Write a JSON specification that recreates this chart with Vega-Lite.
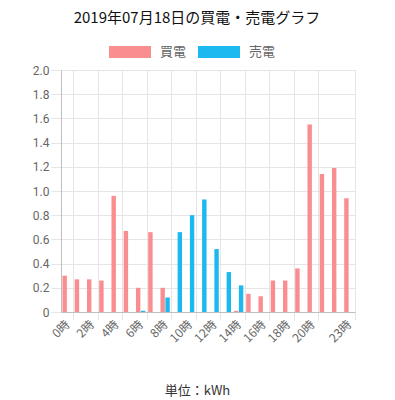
{
  "$schema": "https://vega.github.io/schema/vega-lite/v6.json",
  "autosize": {"type": "none"},
  "width": 294,
  "height": 242,
  "padding": {"left": 61, "top": 70, "right": 40, "bottom": 88},
  "background": "white",
  "title": {
    "text": "2019年07月18日の買電・売電グラフ",
    "anchor": "middle",
    "frame": "group",
    "dx": -11,
    "offset": 16,
    "fontSize": 15,
    "fontWeight": "normal",
    "font": "Noto Sans CJK JP",
    "color": "#111111"
  },
  "config": {
    "view": {"stroke": null},
    "font": "Noto Sans CJK JP"
  },
  "data": {
    "values": [
      {"hour": 0, "type": "買電", "kwh": 0.30},
      {"hour": 1, "type": "買電", "kwh": 0.27},
      {"hour": 2, "type": "買電", "kwh": 0.27},
      {"hour": 3, "type": "買電", "kwh": 0.26},
      {"hour": 4, "type": "買電", "kwh": 0.96},
      {"hour": 5, "type": "買電", "kwh": 0.67},
      {"hour": 6, "type": "買電", "kwh": 0.20},
      {"hour": 7, "type": "買電", "kwh": 0.66},
      {"hour": 8, "type": "買電", "kwh": 0.20},
      {"hour": 9, "type": "買電", "kwh": 0},
      {"hour": 10, "type": "買電", "kwh": 0},
      {"hour": 11, "type": "買電", "kwh": 0},
      {"hour": 12, "type": "買電", "kwh": 0},
      {"hour": 13, "type": "買電", "kwh": 0},
      {"hour": 14, "type": "買電", "kwh": 0.01},
      {"hour": 15, "type": "買電", "kwh": 0.15},
      {"hour": 16, "type": "買電", "kwh": 0.13},
      {"hour": 17, "type": "買電", "kwh": 0.26},
      {"hour": 18, "type": "買電", "kwh": 0.26},
      {"hour": 19, "type": "買電", "kwh": 0.36},
      {"hour": 20, "type": "買電", "kwh": 1.55},
      {"hour": 21, "type": "買電", "kwh": 1.14},
      {"hour": 22, "type": "買電", "kwh": 1.19},
      {"hour": 23, "type": "買電", "kwh": 0.94},
      {"hour": 6, "type": "売電", "kwh": 0.01},
      {"hour": 8, "type": "売電", "kwh": 0.12},
      {"hour": 9, "type": "売電", "kwh": 0.66},
      {"hour": 10, "type": "売電", "kwh": 0.80},
      {"hour": 11, "type": "売電", "kwh": 0.93},
      {"hour": 12, "type": "売電", "kwh": 0.52},
      {"hour": 13, "type": "売電", "kwh": 0.33},
      {"hour": 14, "type": "売電", "kwh": 0.22}
    ]
  },
  "mark": {"type": "bar"},
  "encoding": {
    "x": {
      "field": "hour",
      "type": "ordinal",
      "scale": {
        "domain": [0,1,2,3,4,5,6,7,8,9,10,11,12,13,14,15,16,17,18,19,20,21,22,23],
        "paddingInner": 0,
        "paddingOuter": 0
      },
      "axis": {
        "values": [0,2,4,6,8,10,12,14,16,18,20,23],
        "labelExpr": "isValid(datum.value) ? datum.value + '時' : ''",
        "labelAngle": -45,
        "labelAlign": "right",
        "labelBaseline": "middle",
        "labelFontSize": 12,
        "labelColor": "#666666",
        "labelFont": "Noto Sans CJK JP",
        "labelPadding": 2,
        "tickBand": "extent",
        "grid": true,
        "gridColor": {"condition": {"test": "!isValid(datum.value)", "value": "transparent"}, "value": "#e5e5e5"},
        "ticks": true,
        "tickSize": 8,
        "tickColor": {"condition": {"test": "!isValid(datum.value)", "value": "transparent"}, "value": "#e5e5e5"},
        "domain": true,
        "domainColor": "#bfbfbf",
        "title": "単位：kWh",
        "titleFont": "Noto Sans CJK JP",
        "titleFontSize": 13,
        "titleFontWeight": "normal",
        "titleColor": "#333333",
        "titleX": 136,
        "titleY": 78,
        "titleBaseline": "middle",
        "titleAlign": "center"
      }
    },
    "xOffset": {
      "field": "type",
      "type": "nominal",
      "scale": {"domain": ["買電", "売電"], "paddingInner": 0.1, "paddingOuter": 0.3}
    },
    "y": {
      "field": "kwh",
      "type": "quantitative",
      "scale": {"domain": [0, 2.0], "nice": false},
      "axis": {
        "values": [0,0.2,0.4,0.6,0.8,1.0,1.2,1.4,1.6,1.8,2.0],
        "labelExpr": "datum.value == 0 ? '0' : format(datum.value, '.1f')",
        "labelFontSize": 12,
        "labelColor": "#666666",
        "labelFont": "Roboto",
        "labelPadding": 2,
        "grid": true,
        "gridColor": "#e5e5e5",
        "ticks": true,
        "tickSize": 10,
        "tickColor": "#e5e5e5",
        "domain": true,
        "domainColor": "#bfbfbf",
        "title": null
      }
    },
    "color": {
      "field": "type",
      "type": "nominal",
      "scale": {"domain": ["買電", "売電"], "range": ["#F98D90", "#1CB8F0"]},
      "legend": {
        "title": null,
        "orient": "none",
        "direction": "horizontal",
        "legendX": 48,
        "legendY": -28,
        "symbolType": "M-1,-0.6H3.2V0.6H-1Z",
        "symbolSize": 400,
        "symbolStrokeWidth": 0,
        "symbolOpacity": 1,
        "labelOffset": 31,
        "labelFontSize": 13,
        "labelColor": "#666666",
        "labelFont": "Noto Sans CJK JP",
        "columnPadding": 11
      }
    }
  }
}
